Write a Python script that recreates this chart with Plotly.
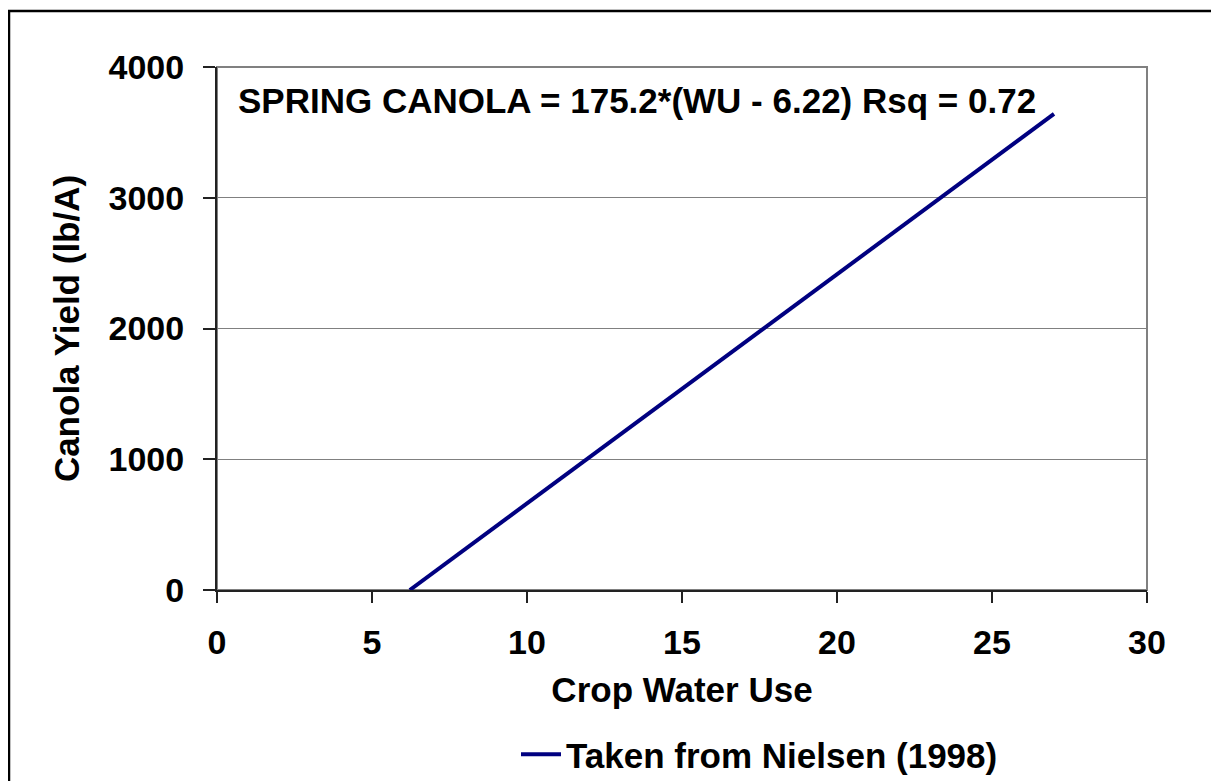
import plotly.graph_objects as go

water_use = [6.22, 27.0]
yield_lb = [0, 3641]
series_name = "Taken from Nielsen (1998)"
equation_text = "SPRING CANOLA = 175.2*(WU - 6.22) Rsq = 0.72"

OFF = 8  # page body margin
W, H = 1211, 773
L, T = 217 - OFF, 67 - OFF
R = W - (1147 - OFF)
B = H - (590 - OFF)
pw, ph = W - L - R, H - T - B

FONT = "Liberation Sans, Arial, sans-serif"

fig = go.Figure()
fig.add_trace(go.Scatter(
    x=water_use, y=yield_lb, mode="lines", name="<b>" + series_name + "</b>",
    line=dict(color="#000080", width=4), showlegend=True,
))

def px_x(p):  # page pixel -> paper x
    return (p - OFF - L) / pw

def px_y(p):  # page pixel -> paper y
    return (H - B - (p - OFF)) / ph

fig.update_layout(
    width=W, height=H,
    margin=dict(l=L, r=R, t=T, b=B, autoexpand=False),
    paper_bgcolor="white", plot_bgcolor="white",
    font=dict(family=FONT, size=34, color="black"),
    showlegend=True,
    legend=dict(
        orientation="h", x=px_x(516), y=px_y(725), xanchor="left", yanchor="top",
        font=dict(family=FONT, size=35, color="black"),
        bgcolor="rgba(0,0,0,0)", itemwidth=40,
    ),
    xaxis=dict(
        range=[0, 30], dtick=5, tick0=0, automargin=False,
        showline=True, linecolor="#222", linewidth=2,
        ticks="outside", ticklen=11, tickwidth=1.5, tickcolor="#222",
        showgrid=False, zeroline=False, ticklabelstandoff=10,
        tickfont=dict(family=FONT, size=34, color="black"),
        title=dict(text="<b>Crop Water Use</b>", font=dict(family=FONT, size=35), standoff=18),
        tickprefix="<b>", ticksuffix="</b>",
    ),
    yaxis=dict(
        range=[0, 4000], dtick=1000, tick0=0, automargin=False,
        showline=True, linecolor="#222", linewidth=2,
        ticks="outside", ticklen=12, tickwidth=1.5, tickcolor="#222",
        showgrid=True, gridcolor="#808080", gridwidth=1, zeroline=False,
        ticklabelstandoff=12,
        tickfont=dict(family=FONT, size=34, color="black"),
        title=dict(text="<b>Canola Yield (lb/A)</b>", font=dict(family=FONT, size=35), standoff=18),
        tickprefix="<b>", ticksuffix="</b>",
    ),
    shapes=[
        dict(type="rect", xref="paper", yref="paper", x0=0, x1=1, y0=0, y1=1,
             line=dict(color="#808080", width=2), layer="below"),
        dict(type="rect", xref="paper", yref="paper",
             x0=px_x(9), x1=px_x(1240), y0=px_y(800), y1=px_y(11),
             line=dict(color="black", width=2.5)),
    ],
    annotations=[
        dict(text="<b>" + equation_text + "</b>", xref="paper", yref="paper",
             x=px_x(236), y=px_y(100), xanchor="left", yanchor="middle",
             showarrow=False, font=dict(family=FONT, size=35, color="black")),
    ],
)

fig.write_html("out.html")
